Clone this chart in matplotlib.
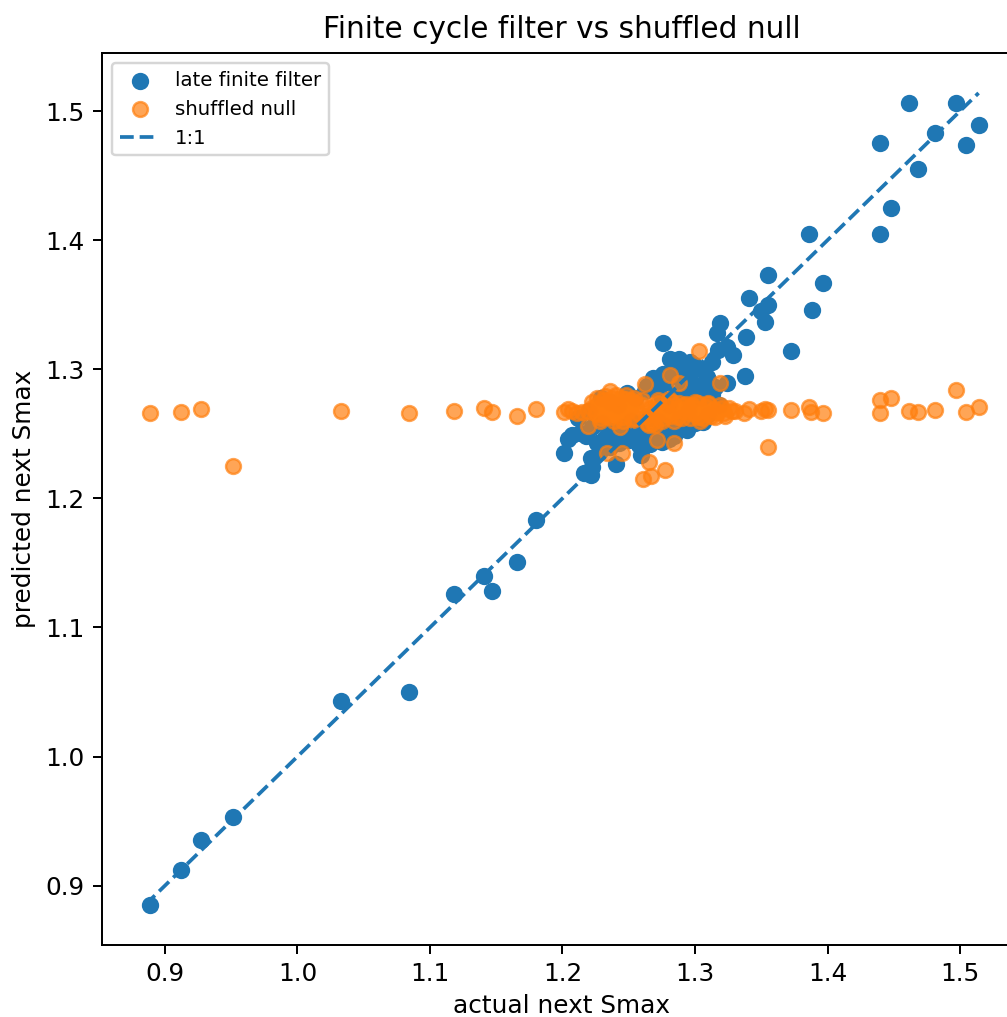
import matplotlib
matplotlib.use("Agg")
import matplotlib.pyplot as plt

blue_x = [0.889,0.912,0.927,0.951,1.033,1.084,1.118,1.141,1.147,1.166,1.180,
          1.4617,1.497,1.481,1.514,1.5045,1.4395,1.4685,1.448,1.4395,1.386,1.355,1.3965,1.388,1.355,1.341,1.350,1.353,1.3725,
          1.3185,1.3165,1.3385,1.3285,1.317,1.313,1.3245,1.338,
          1.201,1.204,1.207,1.213,1.218,1.216,1.2215,1.2225,1.2215,1.228,1.226,1.232,1.24,1.2595,1.236,1.243,1.25,1.256,1.262,1.268,
          1.222,1.23,1.238,1.246,1.252,1.26,1.265,1.272,1.278,1.285,1.294,1.30,1.306,1.288,1.212,1.22,1.229,1.236,1.242,1.249,1.255,
          1.262,1.268,1.264,1.272,1.275,1.28,1.285,1.29,1.296,1.30,1.305,1.313,1.318,1.324,1.309,1.304,1.2996,1.296,1.288,1.281,1.2755,
          1.292,1.285,1.278,1.31,1.295,
          1.296,1.305,1.315,1.31,1.283,1.292,1.276,1.27,1.265,1.272,1.28,1.258,1.266,1.275,1.284]
blue_y = [0.885,0.912,0.935,0.953,1.043,1.050,1.126,1.140,1.128,1.151,1.183,
          1.506,1.5066,1.483,1.489,1.474,1.475,1.455,1.425,1.405,1.405,1.373,1.3665,1.346,1.350,1.355,1.345,1.337,1.314,
          1.336,1.328,1.325,1.311,1.315,1.306,1.317,1.295,
          1.235,1.246,1.249,1.2505,1.248,1.2195,1.218,1.224,1.231,1.237,1.243,1.247,1.227,1.2335,1.24,1.243,1.245,1.25,1.243,1.248,
          1.255,1.258,1.252,1.255,1.26,1.258,1.262,1.26,1.256,1.252,1.253,1.258,1.2595,1.262,1.262,1.268,1.278,1.275,1.272,1.282,1.278,
          1.283,1.293,1.287,1.285,1.278,1.272,1.28,1.285,1.275,1.283,1.278,1.281,1.272,1.289,1.294,1.30,1.303,1.306,1.308,1.308,1.32,
          1.298,1.295,1.29,1.265,1.268,
          1.292,1.288,1.286,1.292,1.298,1.288,1.296,1.285,1.248,1.25,1.246,1.241,1.242,1.244,1.248]

orange_x = [0.889,0.912,0.927,0.951,1.033,1.084,1.118,1.141,1.147,1.166,1.180,
            1.355,1.3725,1.386,1.3875,1.3965,1.4395,1.4395,1.448,1.4617,1.4685,1.481,1.497,1.5045,1.514,1.350,1.341,1.337,1.353,1.328,1.322,
            1.303,1.281,1.288,1.262,1.3185,1.236,1.219,1.2437,1.2715,1.284,1.2337,1.245,1.265,1.2775,1.2665,1.261,1.355,
            1.201,1.204,1.207,1.211,1.215,1.219,1.222,1.225,1.227,1.229,1.231,1.233,1.235,1.237,1.239,1.241,1.243,1.245,1.247,1.249,1.251,1.253,1.255,1.257,1.26,
            1.226,1.23,1.234,1.238,1.242,1.246,1.25,1.254,1.228,1.232,1.236,1.24,1.244,1.248,1.252,
            1.263,1.266,1.269,1.272,1.275,1.278,1.281,1.284,1.287,1.29,1.293,1.296,1.299,1.302,1.305,1.308,1.311,1.314,1.317,
            1.268,1.272,1.276,1.28,1.284,1.288,1.292,1.296,1.30,1.265,1.27,1.275,1.279,1.283,1.287,1.291,1.295,1.30,1.31,1.32,
            1.222,1.226,1.232,1.24,1.248,1.254,1.26,1.264,1.27,1.302,1.306,1.31,1.315,1.319,1.323,1.326,1.33,1.298,1.304,1.312]
orange_y = [1.266,1.267,1.269,1.225,1.268,1.266,1.268,1.270,1.267,1.264,1.269,
            1.2688,1.2688,1.2705,1.2668,1.2665,1.2765,1.266,1.2775,1.268,1.267,1.2688,1.2843,1.267,1.2705,1.268,1.2695,1.266,1.269,1.268,1.2665,
            1.314,1.2955,1.2895,1.2885,1.2895,1.2835,1.256,1.2555,1.245,1.243,1.2348,1.2348,1.228,1.222,1.2175,1.215,1.2395,
            1.267,1.2695,1.268,1.2665,1.267,1.268,1.27,1.2665,1.273,1.262,1.276,1.264,1.269,1.278,1.26,1.272,1.275,1.263,1.277,1.267,1.27,1.261,1.274,1.266,1.272,
            1.265,1.272,1.275,1.265,1.27,1.26,1.273,1.262,1.26,1.268,1.263,1.268,1.278,1.268,1.276,
            1.264,1.27,1.268,1.274,1.26,1.272,1.264,1.268,1.27,1.262,1.273,1.266,1.27,1.263,1.268,1.271,1.266,1.269,1.267,
            1.258,1.276,1.262,1.277,1.26,1.274,1.272,1.262,1.275,1.257,1.265,1.268,1.265,1.275,1.263,1.268,1.27,1.266,1.274,1.27,
            1.275,1.278,1.279,1.28,1.28,1.278,1.276,1.258,1.257,1.274,1.262,1.273,1.263,1.272,1.264,1.27,1.268,1.272,1.26,1.264]

line_ends = [0.885, 1.514]
x_ticks = [0.9, 1.0, 1.1, 1.2, 1.3, 1.4, 1.5]
y_ticks = [0.9, 1.0, 1.1, 1.2, 1.3, 1.4, 1.5]

W, H, DPI = 1008, 1017, 178
fig = plt.figure(figsize=(W / DPI, H / DPI), dpi=DPI)
L, R, T, B = 102, 1021, 53, 945
ax = fig.add_axes([L / W, 1 - B / H, (R - L) / W, (B - T) / H])

ax.scatter(blue_x, blue_y, color="#1f77b4", label="late finite filter")
ax.scatter(orange_x, orange_y, color="#ff7f0e", alpha=0.7, label="shuffled null")
ax.plot(line_ends, line_ends, "--", color="#1f77b4", label="1:1")

ax.set_xlim(0.8525, 1.5460)
ax.set_ylim(0.854, 1.545)
ax.set_xticks(x_ticks)
ax.set_yticks(y_ticks)
ax.set_xlabel("actual next Smax", labelpad=3)
ax.set_ylabel("predicted next Smax")
ax.set_title("Finite cycle filter vs shuffled null")
ax.legend(loc="upper left", fontsize=8)
fig.savefig("out.png", dpi=DPI)
